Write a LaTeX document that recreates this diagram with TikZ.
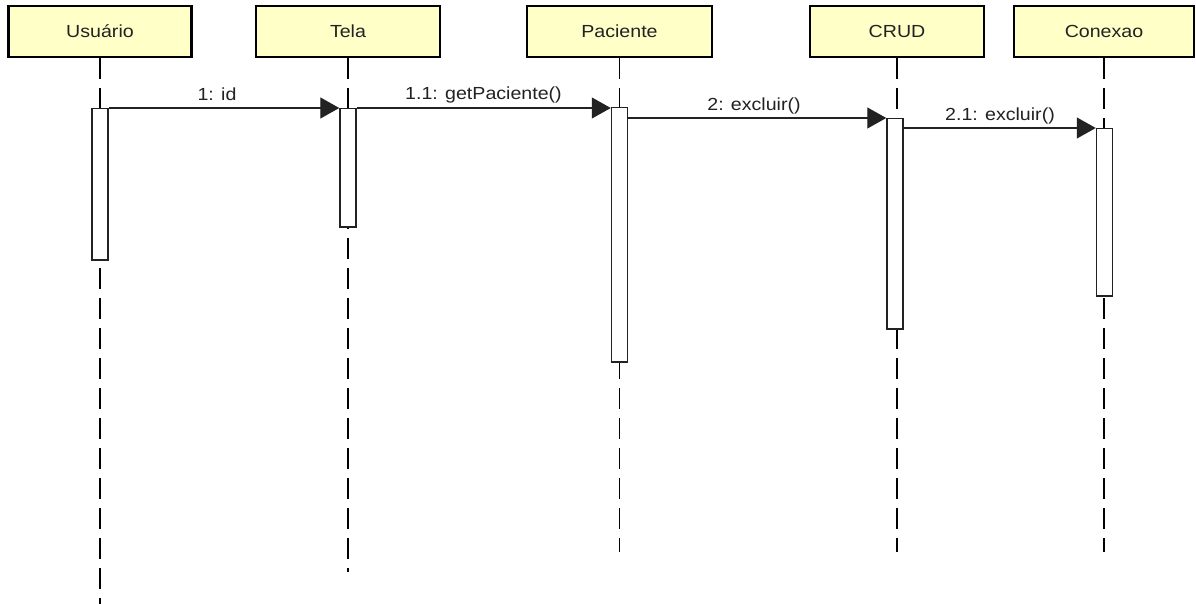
\documentclass[tikz,border=0pt]{standalone}
\usepackage{fontspec}
\setmainfont{Liberation Sans}
\usetikzlibrary{arrows.meta}
\definecolor{hdrfill}{RGB}{255,255,200}
\definecolor{ink}{RGB}{34,34,34}
\newcommand{\wtxt}[1]{\scalebox{1.12}[1]{#1}}
\begin{document}
\begin{tikzpicture}[x=1pt,y=-1pt,
  hdr/.style={draw=black,line width=2.6pt,fill=hdrfill,minimum height=51pt,inner sep=0pt,
    font=\fontsize{17.5}{20}\selectfont,text=ink},
  life/.style={line width=1.3pt,draw=black,dash pattern=on 21pt off 9pt},
  actbar/.style={draw=ink,line width=1.5pt,fill=white,minimum width=16pt,inner sep=0pt,anchor=north},
  msg/.style={line width=1.3pt,draw=ink,-{Triangle[length=19pt,width=21pt]}},
  lbl/.style={font=\fontsize{17.5}{20}\selectfont,text=ink,inner sep=0pt,anchor=base}
]
\useasboundingbox (0,0) rectangle (1196,604);
\fill[white] (0,0) rectangle (1196,604);

% headers
\node[hdr,minimum width=183pt] (hU) at (100,31.5) {\wtxt{Usuário}};
\node[hdr,minimum width=184pt] (hT) at (348,31.5) {\wtxt{Tela}};
\node[hdr,minimum width=185pt] (hP) at (619.5,31.5) {\wtxt{Paciente}};
\node[hdr,minimum width=174pt] (hC) at (897,31.5) {\wtxt{CRUD}};
\node[hdr,minimum width=180pt] (hX) at (1104,31.5) {\wtxt{Conexao}};

% lifeline ends
\coordinate (eU) at (100,604);
\coordinate (eT) at (348,572);
\coordinate (eP) at (619.5,552);
\coordinate (eC) at (897,552);
\coordinate (eX) at (1104,552);

\draw[life] (hU.south) -- (eU);
\draw[life] (hT.south) -- (eT);
\draw[life] (hP.south) -- (eP);
\draw[life] (hC.south) -- (eC);
\draw[life] (hX.south) -- (eX);

% activation bars
\node[actbar,minimum height=151pt] (bU) at (100,108) {};
\node[actbar,minimum height=118pt] (bT) at (348,108) {};
\node[actbar,minimum height=254pt] (bP) at (619.5,107) {};
\node[actbar,minimum height=210pt] (bC) at (895,118) {};
\node[actbar,minimum height=167pt] (bX) at (1104.5,128) {};

% messages
\draw[msg] (bU.north east) -- (bT.north west);
\draw[msg] (bT.north east) -- (bT.north east -| bP.west);
\draw[msg] (bP.east |- bC.north) -- (bC.north west);
\draw[msg] (bC.east |- bX.north) -- (bX.north west);

% labels
\node[lbl] (l1) at (217,101) {\wtxt{1: id}};
\node[lbl] (l2) at (483.5,100) {\wtxt{1.1: getPaciente()}};
\node[lbl] (l3) at (754,111) {\wtxt{2: excluir()}};
\node[lbl] (l4) at (1000,121) {\wtxt{2.1: excluir()}};
\end{tikzpicture}
\end{document}
